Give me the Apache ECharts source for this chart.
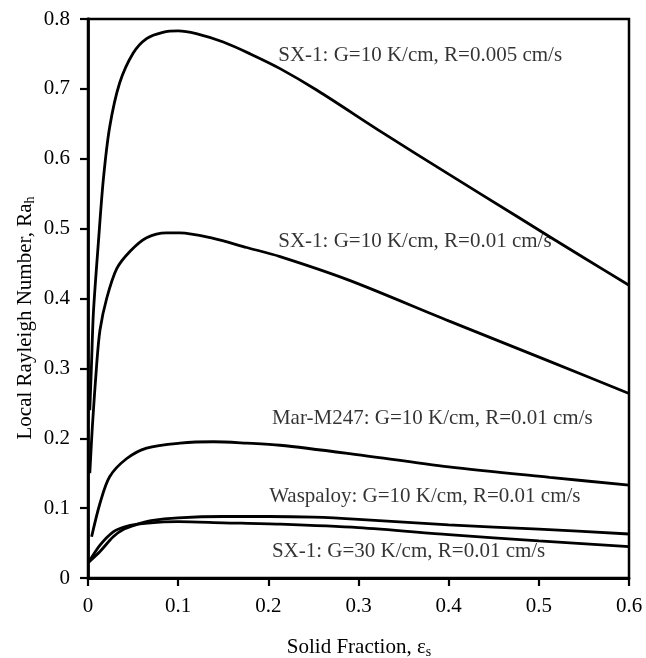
<!DOCTYPE html>
<html>
<head>
<meta charset="utf-8">
<script src="https://cdn.jsdelivr.net/npm/echarts@6/dist/echarts.min.js"></script>
<style>
  html, body { margin: 0; padding: 0; background: #fff; }
  #chart { width: 646px; height: 658px; }
</style>
</head>
<body>
<div id="chart"></div>
<script>
// curves: [solid fraction, Ra_h]
const sx1G10R005 = [
  [0.002, 0.24], [0.004, 0.31], [0.006, 0.38], [0.0115, 0.48], [0.017, 0.57],
  [0.024, 0.645], [0.035, 0.708], [0.05, 0.751], [0.065, 0.772], [0.083, 0.781],
  [0.1, 0.783], [0.12, 0.779], [0.15, 0.767], [0.18, 0.75], [0.213, 0.729],
  [0.254, 0.698], [0.327, 0.637], [0.4, 0.578], [0.475, 0.518], [0.549, 0.459],
  [0.6, 0.419]
]
const sx1G10R01 = [
  [0.002, 0.15], [0.005, 0.22], [0.0096, 0.305], [0.0133, 0.355], [0.0207, 0.4],
  [0.032, 0.443], [0.047, 0.468], [0.065, 0.487], [0.087, 0.494], [0.102, 0.494],
  [0.139, 0.486], [0.176, 0.473], [0.213, 0.46], [0.29, 0.426], [0.4, 0.368],
  [0.512, 0.31], [0.6, 0.264]
]
const marM247 = [
  [0.004, 0.059], [0.0133, 0.107], [0.024, 0.145], [0.043, 0.171], [0.065, 0.186],
  [0.102, 0.193], [0.139, 0.195], [0.176, 0.193], [0.213, 0.19], [0.29, 0.178],
  [0.4, 0.159], [0.512, 0.144], [0.6, 0.133]
]
const waspaloy = [
  [0.001, 0.023], [0.0133, 0.038], [0.028, 0.059], [0.04, 0.07], [0.055, 0.077],
  [0.07, 0.082], [0.1, 0.086], [0.15, 0.088], [0.2, 0.088], [0.25, 0.087],
  [0.3, 0.084], [0.4, 0.076], [0.5, 0.07], [0.6, 0.063]
]
const sx1G30R01 = [
  [0.001, 0.023], [0.0133, 0.047], [0.028, 0.066], [0.04, 0.073], [0.055, 0.077],
  [0.08, 0.08], [0.1, 0.0806], [0.15, 0.079], [0.213, 0.077], [0.3, 0.072],
  [0.4, 0.062], [0.5, 0.053], [0.6, 0.045]
]

const seriesNames = [
  'SX-1: G=10 K/cm, R=0.005 cm/s',
  'SX-1: G=10 K/cm, R=0.01 cm/s',
  'Mar-M247: G=10 K/cm, R=0.01 cm/s',
  'Waspaloy: G=10 K/cm, R=0.01 cm/s',
  'SX-1: G=30 K/cm, R=0.01 cm/s'
]
const seriesData = [sx1G10R005, sx1G10R01, marM247, waspaloy, sx1G30R01]

// where each curve label sits (left edge, vertical middle), in axis units
const labelAnchors = [
  [0.211, 0.748], [0.211, 0.481], [0.204, 0.2285], [0.201, 0.1163], [0.204, 0.0376]
]

const FONT = 'Liberation Serif'

const el = document.getElementById('chart')
const myChart = echarts.init(el)

const lines = seriesData.map((d, i) => ({
  name: seriesNames[i],
  type: 'line',
  data: d,
  smooth: 0.3,
  showSymbol: false,
  symbol: 'none',
  lineStyle: { color: '#000', width: 2.8 },
  z: 3
}))

const labels = {
  type: 'scatter',
  symbolSize: 0,
  data: labelAnchors.map((p, i) => ({ value: p, name: seriesNames[i] })),
  label: {
    show: true,
    position: 'right',
    distance: 0,
    formatter: p => p.name,
    color: '#000',
    fontFamily: FONT,
    fontSize: 21
  },
  z: 5
}

const option = {
  animation: false,
  backgroundColor: '#fff',
  grid: {
    left: 88, right: 17, top: 19, bottom: 80,
    show: true, borderColor: '#000', borderWidth: 2.5, backgroundColor: 'transparent'
  },
  xAxis: {
    type: 'value',
    min: 0, max: 0.6, interval: 0.1,
    axisLine: { show: true, onZero: false, lineStyle: { color: '#000', width: 2.8 } },
    axisTick: { show: true, inside: false, length: 8, lineStyle: { color: '#000', width: 2.2 } },
    axisLabel: { color: '#000', fontFamily: FONT, fontSize: 21, margin: 18 },
    splitLine: { show: false }
  },
  yAxis: {
    type: 'value',
    min: 0, max: 0.8, interval: 0.1,
    axisLine: { show: true, onZero: false, lineStyle: { color: '#000', width: 2.8 } },
    axisTick: { show: true, inside: false, length: 8, lineStyle: { color: '#000', width: 2.2 } },
    axisLabel: { color: '#000', fontFamily: FONT, fontSize: 21, margin: 18 },
    splitLine: { show: false }
  },
  graphic: [
    {
      type: 'text',
      x: 25, y: 318,
      rotation: Math.PI / 2,
      style: {
        text: '{m|Local Rayleigh Number, Ra}{s|h}',
        align: 'center',
        verticalAlign: 'middle',
        rich: {
          m: { fontFamily: FONT, fontSize: 21, fill: '#000', lineHeight: 24 },
          s: { fontFamily: FONT, fontSize: 14, fill: '#000', lineHeight: 24, verticalAlign: 'bottom' }
        }
      }
    },
    {
      type: 'text',
      x: 359, y: 647,
      style: {
        text: '{m|Solid Fraction, ε}{s|s}',
        align: 'center',
        verticalAlign: 'middle',
        rich: {
          m: { fontFamily: FONT, fontSize: 21, fill: '#000', lineHeight: 24 },
          s: { fontFamily: FONT, fontSize: 14, fill: '#000', lineHeight: 24, verticalAlign: 'bottom' }
        }
      }
    }
  ],
  series: [...lines, labels]
}

myChart.setOption(option)
</script>
</body>
</html>
